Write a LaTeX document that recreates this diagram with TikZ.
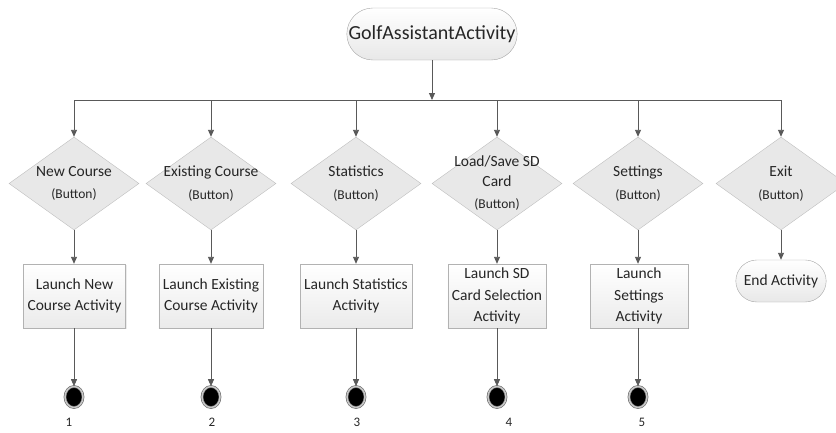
\documentclass[tikz,border=0pt]{standalone}
\usepackage{fontspec}
\setmainfont{Carlito}
\usetikzlibrary{shapes.geometric,shapes.misc,arrows.meta,shadows}

\begin{document}
\begin{tikzpicture}[x=1pt,y=-1pt,
  every node/.style={text=black!85},
  wire/.style={draw=black!65, line width=0.9pt},
  line/.style={wire, -{Triangle[length=7pt,width=6pt]}},
  startend/.style={rounded rectangle, draw=black!35, top color=white, bottom color=black!9, align=center},
  choice/.style={diamond, draw=black!25, fill=black!9, minimum width=130pt, minimum height=93pt, inner sep=0pt},
  choicetext/.style={align=center, font=\fontsize{15.5}{19.5}\selectfont},
  launch/.style={rectangle, draw=black!30, top color=white, bottom color=black!8, minimum width=98pt, minimum height=64pt, inner xsep=4pt, inner ysep=1pt, align=center, font=\fontsize{15.5}{21.5}\selectfont, drop shadow={opacity=0.15, shadow xshift=1.2pt, shadow yshift=-1.2pt}},
  final/.style={ellipse, fill=black, draw=black!60, line width=0.6pt, double=black!22, double distance=1.5pt, minimum width=18pt, minimum height=21pt, inner sep=0pt},
  number/.style={font=\fontsize{13}{15}\selectfont}]
\useasboundingbox (0,0) rectangle (836,432);

% start
\node[startend, minimum width=177pt, minimum height=52pt, font=\fontsize{20}{24}\selectfont] (start) at (432,34) {GolfAssistantActivity};
\coordinate (bar) at (432,100);

% buttons
\node[choice, label={[choicetext]center:New Course\\[3pt]{\fontsize{13.5}{16}\selectfont (Button)}}] (newcourse) at (74,183.5) {};
\node[choice, label={[choicetext]center:Existing Course\\[3pt]{\fontsize{13.5}{16}\selectfont (Button)}}] (existing) at (211,183.5) {};
\node[choice, label={[choicetext]center:Statistics\\[3pt]{\fontsize{13.5}{16}\selectfont (Button)}}] (stats) at (356,183.5) {};
\node[choice, label={[choicetext]center:Load/Save SD\\Card\\[3pt]{\fontsize{13.5}{16}\selectfont (Button)}}] (sdcard) at (497,183.5) {};
\node[choice, label={[choicetext]center:Settings\\[3pt]{\fontsize{13.5}{16}\selectfont (Button)}}] (settings) at (638,183.5) {};
\node[choice, label={[choicetext]center:Exit\\[3pt]{\fontsize{13.5}{16}\selectfont (Button)}}] (exit) at (781,183.5) {};

% activities
\node[launch] (launchnew) at (74.5,296) {Launch New\\Course Activity};
\node[launch] (launchexisting) at (211,296) {Launch Existing\\Course Activity};
\node[launch] (launchstats) at (356,296) {Launch Statistics\\Activity};
\node[launch] (launchsd) at (497,296) {Launch SD\\Card Selection\\Activity};
\node[launch] (launchsettings) at (639,296) {Launch\\Settings\\Activity};
\node[startend, minimum width=97pt, minimum height=42pt, font=\fontsize{15.5}{19}\selectfont] (endact) at (781,281) {End Activity};

% end points
\node[final] (f1) at (74,397) {};
\node[final] (f2) at (211,397) {};
\node[final] (f3) at (356,397) {};
\node[final] (f4) at (497,397) {};
\node[final] (f5) at (638,397) {};
\node[number] (n1) at (69,422) {1};
\node[number] (n2) at (212,422) {2};
\node[number] (n3) at (357,422) {3};
\node[number] (n4) at (509,422) {4};
\node[number] (n5) at (642,422) {5};

% connectors
\draw[line] (start.south) -- (bar);
\draw[wire] (bar -| newcourse) -- (bar -| exit);
\draw[line] (bar -| newcourse) -- (newcourse.north);
\draw[line] (bar -| existing) -- (existing.north);
\draw[line] (bar -| stats) -- (stats.north);
\draw[line] (bar -| sdcard) -- (sdcard.north);
\draw[line] (bar -| settings) -- (settings.north);
\draw[line] (bar -| exit) -- (exit.north);

\draw[line] (newcourse.south) -- (newcourse.south |- launchnew.north);
\draw[line] (existing.south) -- (launchexisting.north);
\draw[line] (stats.south) -- (launchstats.north);
\draw[line] (sdcard.south) -- (launchsd.north);
\draw[line] (settings.south) -- (settings.south |- launchsettings.north);
\draw[line] (exit.south) -- (endact.north);

\draw[line] (launchnew.south -| f1) -- (f1.north);
\draw[line] (launchexisting.south) -- (f2.north);
\draw[line] (launchstats.south) -- (f3.north);
\draw[line] (launchsd.south) -- (f4.north);
\draw[line] (launchsettings.south -| f5) -- (f5.north);

\end{tikzpicture}
\end{document}
